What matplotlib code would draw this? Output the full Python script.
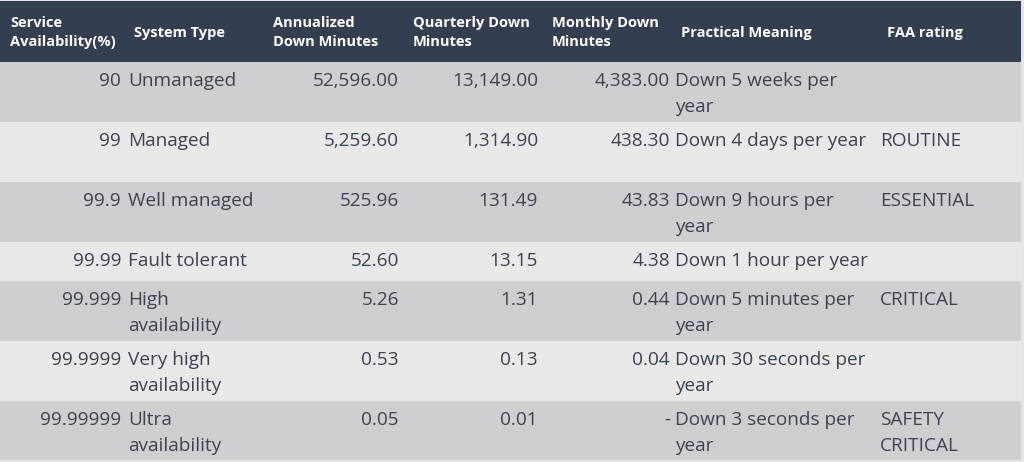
import matplotlib.pyplot as plt
from matplotlib.patches import Rectangle

# table content
headers = ["Service\nAvailability(%)", "System Type", "Annualized\nDown Minutes",
           "Quarterly Down\nMinutes", "Monthly Down\nMinutes", "Practical Meaning", "FAA rating"]
availability = ["90", "99", "99.9", "99.99", "99.999", "99.9999", "99.99999"]
system_type = ["Unmanaged", "Managed", "Well managed", "Fault tolerant",
               "High\navailability", "Very high\navailability", "Ultra\navailability"]
annual = [52596.00, 5259.60, 525.96, 52.60, 5.26, 0.53, 0.05]
quarterly = [13149.00, 1314.90, 131.49, 13.15, 1.31, 0.13, 0.01]
monthly = [4383.00, 438.30, 43.83, 4.38, 0.44, 0.04, None]
meaning = ["Down 5 weeks per\nyear", "Down 4 days per year", "Down 9 hours per\nyear",
           "Down 1 hour per year", "Down 5 minutes per\nyear", "Down 30 seconds per\nyear",
           "Down 3 seconds per\nyear"]
faa = ["", "ROUTINE", "ESSENTIAL", "", "CRITICAL", "", "SAFETY\nCRITICAL"]

# layout (pixels)
W, H = 1024, 462
table_right = 1021
header_top, header_bot = 1, 62
row_h = [60, 60, 60, 39, 60, 60, 59]
head_x = [10, 134, 273, 413, 552, 681, 887]
# (x, align) for body columns
body_cols = [(121, 'right'), (128, 'left'), (399, 'right'), (538, 'right'),
             (670, 'right'), (675, 'left'), (880, 'left')]

HEAD_BG = '#333f50'
ROW_BG = ['#cecfd1', '#e9e9ea']
TXT = '#3c4350'

plt.rcParams['font.family'] = ['Open Sans', 'DejaVu Sans']

fig = plt.figure(figsize=(W / 100, H / 100), dpi=100)
fig.patch.set_facecolor('#e6e6e6')
ax = fig.add_axes([0, 0, 1, 1])
ax.set_xlim(0, W)
ax.set_ylim(H, 0)
ax.axis('off')


def fmt(v):
    if v is None:
        return '-'
    return '{:,.2f}'.format(v)


ax.add_patch(Rectangle((0, header_top), table_right, header_bot - header_top,
                       facecolor=HEAD_BG, edgecolor='none'))
for x, h in zip(head_x, headers):
    ax.text(x, (header_top + header_bot) / 2 + 1, h, ha='left', va='center',
            color='white', fontsize=10.5, fontweight='bold', linespacing=1.47)

y = header_bot
for i in range(len(availability)):
    ax.add_patch(Rectangle((0, y), table_right, row_h[i],
                           facecolor=ROW_BG[i % 2], edgecolor='none'))
    vals = [availability[i], system_type[i], fmt(annual[i]), fmt(quarterly[i]),
            fmt(monthly[i]), meaning[i], faa[i]]
    for (x, al), v in zip(body_cols, vals):
        ax.text(x, y + 10, v, ha=al, va='top', color=TXT, fontsize=13.7,
                linespacing=1.6)
    y += row_h[i]

fig.savefig('out.png', dpi=100, facecolor=fig.get_facecolor())
